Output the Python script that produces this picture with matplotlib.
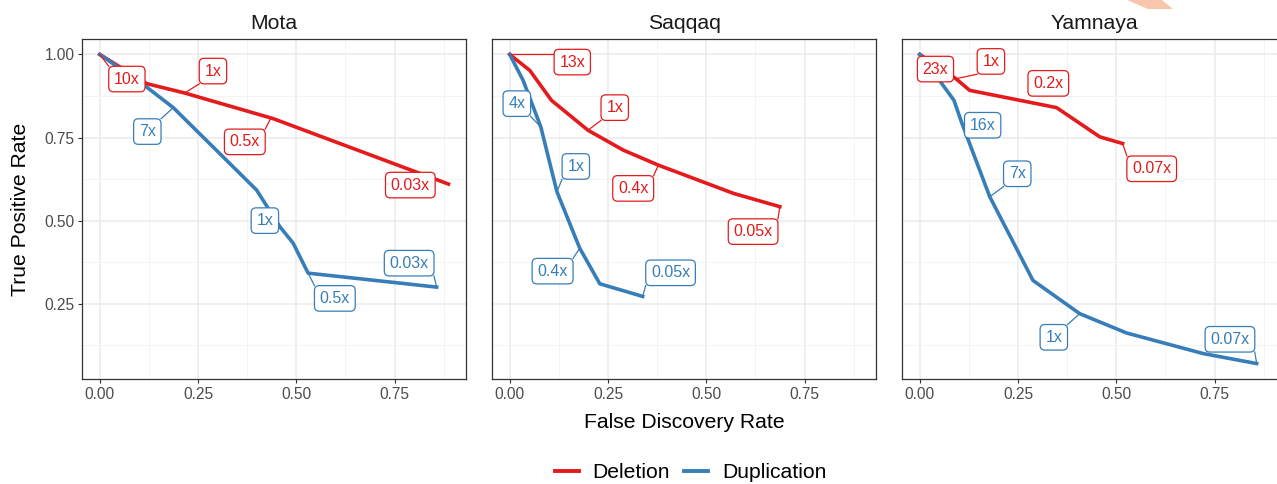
import numpy as np
import matplotlib
matplotlib.use("Agg")
import matplotlib.pyplot as plt
from matplotlib.lines import Line2D
from matplotlib.patches import Polygon

plt.rcParams['font.family'] = ['Liberation Sans', 'DejaVu Sans']

# ==============================
# DATA (FDR on x, TPR on y)
# ==============================
panels = ["Mota", "Saqqaq", "Yamnaya"]

mota_del_fdr = [0.0, 0.12, 0.216, 0.441, 0.887]
mota_del_tpr = [1.0, 0.912, 0.884, 0.807, 0.61]
mota_dup_fdr = [0.0, 0.119, 0.187, 0.399, 0.458, 0.492, 0.530, 0.857]
mota_dup_tpr = [1.0, 0.902, 0.84, 0.592, 0.482, 0.432, 0.342, 0.30]

saqqaq_del_fdr = [0.0, 0.051, 0.106, 0.199, 0.289, 0.378, 0.569, 0.687]
saqqaq_del_tpr = [1.0, 0.952, 0.862, 0.772, 0.712, 0.667, 0.582, 0.542]
saqqaq_dup_fdr = [0.0, 0.034, 0.079, 0.120, 0.178, 0.229, 0.338]
saqqaq_dup_tpr = [1.0, 0.922, 0.782, 0.587, 0.417, 0.31, 0.272]

yamnaya_del_fdr = [0.0, 0.092, 0.127, 0.348, 0.458, 0.516]
yamnaya_del_tpr = [1.0, 0.927, 0.892, 0.84, 0.752, 0.732]
yamnaya_dup_fdr = [0.0, 0.047, 0.087, 0.106, 0.178, 0.288, 0.407, 0.526, 0.721, 0.857]
yamnaya_dup_tpr = [1.0, 0.927, 0.862, 0.797, 0.572, 0.32, 0.22, 0.162, 0.10, 0.07]

# coverage labels: text, point on curve (None = hidden under label)
mota_del_labels = ["10x", "1x", "0.5x", "0.03x"]
mota_del_points = [(0.0, 1.0), (0.216, 0.884), (0.436, 0.81), None]
mota_dup_labels = ["7x", "1x", "0.5x", "0.03x"]
mota_dup_points = [(0.187, 0.84), None, (0.530, 0.342), (0.857, 0.30)]

saqqaq_del_labels = ["13x", "1x", "0.4x", "0.05x"]
saqqaq_del_points = [(0.0, 1.0), (0.199, 0.772), (0.378, 0.667), (0.687, 0.542)]
saqqaq_dup_labels = ["4x", "1x", "0.4x", "0.05x"]
saqqaq_dup_points = [(0.079, 0.782), (0.120, 0.587), (0.178, 0.417), (0.338, 0.272)]

yamnaya_del_labels = ["23x", "1x", "0.2x", "0.07x"]
yamnaya_del_points = [None, (0.092, 0.927), None, (0.516, 0.732)]
yamnaya_dup_labels = ["16x", "7x", "1x", "0.07x"]
yamnaya_dup_points = [None, (0.178, 0.572), (0.407, 0.22), (0.857, 0.07)]

# where the repelled label boxes sit (layout)
mota_del_pos = [(0.069, 0.926), (0.288, 0.950), (0.369, 0.737), (0.790, 0.607)]
mota_dup_pos = [(0.121, 0.768), (0.420, 0.500), (0.598, 0.266), (0.787, 0.372)]
saqqaq_del_pos = [(0.159, 0.977), (0.267, 0.840), (0.314, 0.597), (0.619, 0.467)]
saqqaq_dup_pos = [(0.018, 0.852), (0.168, 0.663), (0.109, 0.348), (0.409, 0.343)]
yamnaya_del_pos = [(0.040, 0.956), (0.181, 0.979), (0.327, 0.913), (0.590, 0.656)]
yamnaya_dup_pos = [(0.160, 0.787), (0.248, 0.641), (0.341, 0.149), (0.789, 0.143)]

# ==============================
# STYLE
# ==============================
RED = "#E41A1C"
BLUE = "#377EB8"
W, H = 1277, 484

fig = plt.figure(figsize=(W / 100, H / 100), dpi=100)

ax_left = [82.3, 492.3, 902.3]
ax_w = 383.7
ax_top, ax_bot = 39, 379

curves = [
    (mota_del_fdr, mota_del_tpr, mota_dup_fdr, mota_dup_tpr),
    (saqqaq_del_fdr, saqqaq_del_tpr, saqqaq_dup_fdr, saqqaq_dup_tpr),
    (yamnaya_del_fdr, yamnaya_del_tpr, yamnaya_dup_fdr, yamnaya_dup_tpr),
]
labels = [
    [(mota_del_labels, mota_del_points, mota_del_pos, RED),
     (mota_dup_labels, mota_dup_points, mota_dup_pos, BLUE)],
    [(saqqaq_del_labels, saqqaq_del_points, saqqaq_del_pos, RED),
     (saqqaq_dup_labels, saqqaq_dup_points, saqqaq_dup_pos, BLUE)],
    [(yamnaya_del_labels, yamnaya_del_points, yamnaya_del_pos, RED),
     (yamnaya_dup_labels, yamnaya_dup_points, yamnaya_dup_pos, BLUE)],
]

axes = []
texts = []  # (ax, text, point)
for i, name in enumerate(panels):
    ax = fig.add_axes([ax_left[i] / W, 1 - ax_bot / H, ax_w / W, (ax_bot - ax_top) / H])
    axes.append(ax)
    ax.set_xlim(-0.0444, 0.9316)
    ax.set_ylim(0.0235, 1.0465)

    ax.set_xticks([0, 0.25, 0.5, 0.75])
    ax.set_xticklabels(["0.00", "0.25", "0.50", "0.75"])
    ax.set_xticks([0.125, 0.375, 0.625, 0.875], minor=True)
    ax.set_yticks([0.25, 0.5, 0.75, 1.0])
    ax.set_yticks([0.125, 0.375, 0.625, 0.875], minor=True)
    ax.grid(which='major', color="#EBEBEB", lw=1.1)
    ax.grid(which='minor', color="#F2F2F2", lw=0.6)
    ax.set_axisbelow(True)
    ax.tick_params(which='minor', length=0)
    ax.tick_params(which='major', length=3.2, width=0.8, color="#333333",
                   labelsize=11.2, labelcolor="#4D4D4D", pad=2.5)
    if i == 0:
        ax.set_yticklabels(["0.25", "0.50", "0.75", "1.00"])
    else:
        ax.tick_params(axis='y', which='both', left=False, labelleft=False)
    for s in ax.spines.values():
        s.set_color("#333333")
        s.set_linewidth(0.9)

    ax.set_title(name, fontsize=15.2, color="#1A1A1A", pad=7)

    dx, dy, ux, uy = curves[i]
    ax.plot(dx, dy, color=RED, lw=2.6, solid_joinstyle='round', zorder=2)
    ax.plot(ux, uy, color=BLUE, lw=2.6, solid_joinstyle='round', zorder=2)

    for labs, pts, pos, col in labels[i]:
        for lab, pt, (tx, ty) in zip(labs, pts, pos):
            t = ax.text(tx, ty, lab, color=col, fontsize=11.5, ha='center', va='center',
                        zorder=6,
                        bbox=dict(boxstyle='round,pad=0.33,rounding_size=0.3',
                                  fc='white', ec=col, lw=0.9))
            texts.append((ax, t, pt, col))

# ==============================
# SEGMENTS FROM LABEL BOX TO POINT
# ==============================
fig.canvas.draw()
renderer = fig.canvas.get_renderer()
for ax, t, pt, col in texts:
    if pt is None:
        continue
    ext = t.get_bbox_patch().get_window_extent(renderer)
    inv = ax.transData.inverted()
    (x0, y0), (x1, y1) = inv.transform([[ext.x0, ext.y0], [ext.x1, ext.y1]])
    nx = np.clip(pt[0], x0, x1)
    ny = np.clip(pt[1], y0, y1)
    ax.plot([nx, pt[0]], [ny, pt[1]], color=col, lw=0.9, zorder=4)

# ==============================
# AXIS TITLES, LEGEND
# ==============================
fig.text(684 / W, 1 - 423 / H, "False Discovery Rate", fontsize=15.2,
         ha='center', va='center')
fig.text(20.5 / W, 1 - 209 / H, "True Positive Rate", fontsize=15.2,
         ha='center', va='center', rotation=90)

handles = [Line2D([], [], color=RED, lw=2.8), Line2D([], [], color=BLUE, lw=2.8)]
fig.legend(handles, ["Deletion", "Duplication"], loc='center',
           bbox_to_anchor=(690.5 / W, 1 - 473 / H), ncol=2, frameon=False,
           fontsize=15.2, handlelength=1.15, handletextpad=0.65, columnspacing=0.65)

# small orange mark in the top right corner
mark = np.array([[1127, 0], [1162, 0], [1173, 9], [1148, 9]], dtype=float)
mark[:, 0] /= W
mark[:, 1] = 1 - mark[:, 1] / H
fig.patches.append(Polygon(mark, closed=True, transform=fig.transFigure,
                           fc="#F9C6AD", ec='none'))

fig.savefig("out.png", dpi=100)
